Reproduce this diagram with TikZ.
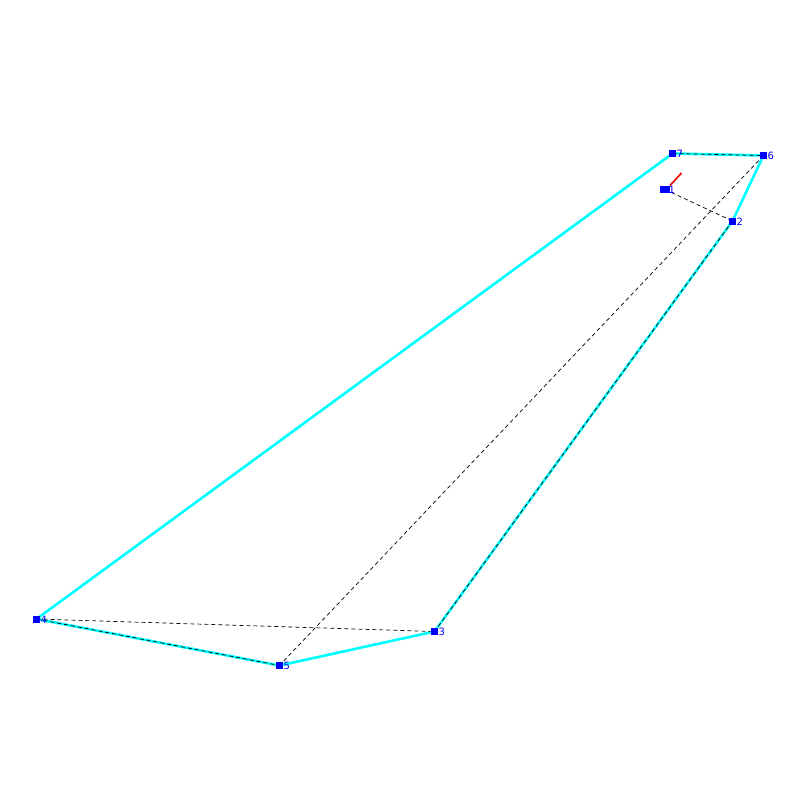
\documentclass[tikz,border=0pt]{standalone}
\usepackage{fontspec}
\setsansfont{DejaVu Sans}
\definecolor{hullcyan}{RGB}{0,255,255}
\definecolor{ptblue}{RGB}{0,0,255}
\definecolor{segred}{RGB}{230,0,0}
\begin{document}
\begin{tikzpicture}[x=1pt,y=-1pt,
  pt/.style={fill=ptblue,draw=none,minimum size=7pt,inner sep=0pt,outer sep=0pt,rectangle},
  lab/.style={text=ptblue,font=\sffamily\fontsize{10}{10}\selectfont,inner sep=0pt,anchor=west},
  hull/.style={draw=hullcyan,line width=2.6pt},
  diag/.style={draw=black,line width=0.7pt,dash pattern=on 4pt off 3pt}]
\useasboundingbox (0,0) rectangle (800,800);
\coordinate (p1) at (665,189.5);
\coordinate (p2) at (732.5,221);
\coordinate (p3) at (434.5,631.5);
\coordinate (p4) at (36.5,619);
\coordinate (p5) at (279.5,665.5);
\coordinate (p6) at (763.5,155.5);
\coordinate (p7) at (672.5,153.5);
\coordinate (r1) at (670,185.5);
\coordinate (r2) at (681.5,173);
% hull
\draw[hull] (p7) -- (p6) -- (p2) -- (p3) -- (p5) -- (p4) -- cycle;
% dashed
\draw[diag] (p7) -- (p6);
\draw[diag] (p6) -- (p5);
\draw[diag] (p4) -- (p3);
\draw[diag] (p1) -- (p2);
\draw[diag] (p2) -- (p3);
\draw[diag] (p4) -- (p5);
% red
\draw[segred,line width=1.6pt] (r1) -- (r2);
% points
\node[pt,minimum width=10pt] (n1) at (p1) {};
\node[pt] (n2) at (p2) {};
\node[pt] (n3) at (p3) {};
\node[pt] (n4) at (p4) {};
\node[pt] (n5) at (p5) {};
\node[pt] (n6) at (p6) {};
\node[pt] (n7) at (p7) {};
\node[lab] (l1) at (668.5,190) {1};
\node[lab] (l2) at (736.5,221.5) {2};
\node[lab] (l3) at (438.5,632) {3};
\node[lab] (l4) at (40.5,619.5) {4};
\node[lab] (l5) at (283.5,666) {5};
\node[lab] (l6) at (767.5,156) {6};
\node[lab] (l7) at (676.5,154) {7};
\end{tikzpicture}
\end{document}
